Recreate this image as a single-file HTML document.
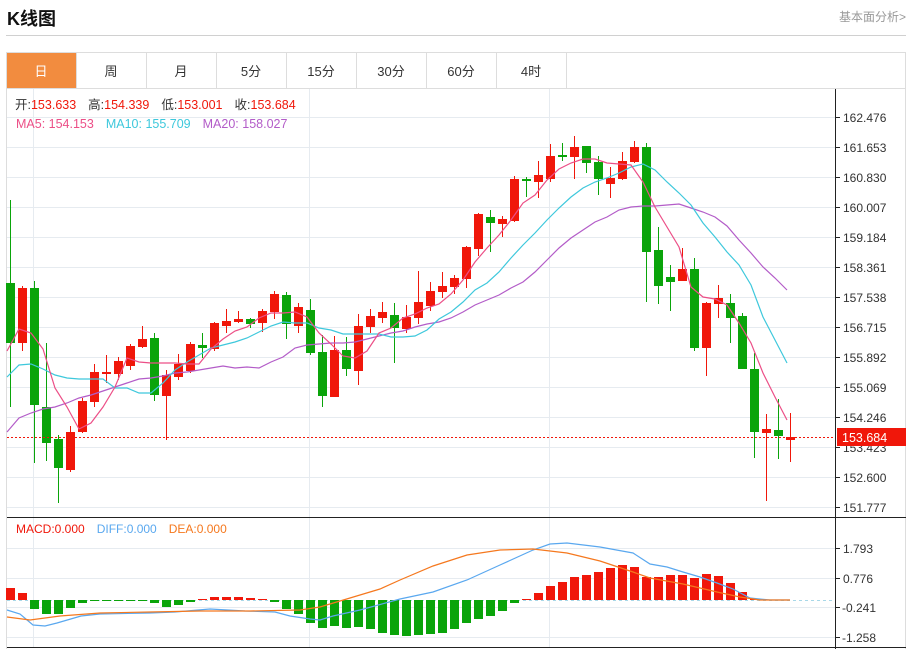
<!DOCTYPE html>
<html><head><meta charset="utf-8"><style>
body{margin:0;width:912px;height:649px;background:#fff;overflow:hidden;font-family:"Liberation Sans","Noto Sans CJK SC",sans-serif;position:relative}
.t{position:absolute;white-space:nowrap}
</style></head><body>
<div class="t" style="left:7px;top:5px;font-size:18px;font-weight:bold;color:#111">K线图</div>
<div class="t" style="right:6px;top:8px;font-size:12px;color:#999">基本面分析&gt;</div>
<div style="position:absolute;left:6px;top:35px;width:900px;height:1px;background:#d0d0d0"></div>
<svg id="s" width="912" height="649" style="position:absolute;left:0;top:0" font-family="Liberation Sans, Noto Sans CJK SC, sans-serif"></svg>
<script>
var S='';
function A(x){S+=x}
// frame
A('<rect x="6.5" y="52.5" width="899" height="600" fill="none" stroke="#ddd"/>');
A('<rect x="7" y="53" width="69" height="35" fill="#f28c3f"/>');
var tabs=['日','周','月','5分','15分','30分','60分','4时'];
for(var i=0;i<8;i++){var x=6+i*70;A('<line x1="'+(x+70.5)+'" y1="53" x2="'+(x+70.5)+'" y2="88" stroke="#ddd"/>');
A('<text x="'+(x+35)+'" y="76" font-size="13" text-anchor="middle" fill="'+(i==0?'#fff':'#333')+'">'+tabs[i]+'</text>');}
A('<line x1="6" y1="88.5" x2="906" y2="88.5" stroke="#ddd"/>');
// grid
for(var k=0;k<14;k++){var y=117+30*k;A('<line x1="7" y1="'+(y+.5)+'" x2="835" y2="'+(y+.5)+'" stroke="#e6ebf0"/>');}
[548,578,607,637].forEach(function(y){A('<line x1="7" y1="'+(y+.5)+'" x2="835" y2="'+(y+.5)+'" stroke="#e6ebf0"/>')});
[33,309,549].forEach(function(x){A('<line x1="'+(x+.5)+'" y1="89" x2="'+(x+.5)+'" y2="647" stroke="#e6ebf0"/>')});
// axis
A('<line x1="835.5" y1="89" x2="835.5" y2="649" stroke="#222"/>');
A('<line x1="7" y1="517.5" x2="906" y2="517.5" stroke="#222"/>');
A('<line x1="7" y1="647.5" x2="906" y2="647.5" stroke="#222"/>');
var labs=['162.476','161.653','160.830','160.007','159.184','158.361','157.538','156.715','155.892','155.069','154.246','153.423','152.600','151.777'];
labs.forEach(function(l,k){var y=117+30*k;A('<line x1="835" y1="'+(y+.5)+'" x2="840" y2="'+(y+.5)+'" stroke="#222"/><text x="843" y="'+(y+5)+'" font-size="12" fill="#333">'+l+'</text>')});
[['1.793',548],['0.776',578],['-0.241',607],['-1.258',637]].forEach(function(a){A('<line x1="835" y1="'+(a[1]+.5)+'" x2="840" y2="'+(a[1]+.5)+'" stroke="#222"/><text x="'+(a[0][0]=='-'?842:843)+'" y="'+(a[1]+5)+'" font-size="12" fill="#333">'+a[0].replace('-','-')+'</text>')});
// candles: [c, top, bottom, high, low]
var C=[['g',283,343,200,407],['r',288,343,286,351],['g',288,405,281,463],['g',407,443,343,461],['g',439,468,435,503],['r',432,470,426,472],['r',401,432,398,433],['r',372,402,364,407],['r',372,374,355,383],['r',361,374,357,380],['r',346,366,344,370],['r',339,347,326,348],['g',338,395,333,401],['r',375,396,370,440],['r',364,377,354,380],['r',344,371,342,373],['g',345,348,333,358],['r',323,349,322,351],['r',321,326,309,333],['r',319,322,311,323],['g',319,324,318,328],['r',311,323,309,332],['r',294,312,291,319],['g',295,324,292,339],['r',307,326,303,333],['g',310,353,299,355],['g',352,396,335,407],['r',350,397,336,397],['g',350,369,337,376],['r',326,371,314,385],['r',316,327,309,333],['r',312,318,302,323],['g',315,328,303,363],['r',317,329,305,333],['r',302,318,271,324],['r',291,306,282,311],['r',286,292,272,298],['r',278,287,275,294],['r',247,279,246,288],['r',214,249,213,256],['g',217,223,210,252],['r',219,224,216,237],['r',179,221,176,222],['g',179,181,177,197],['r',175,182,161,198],['r',156,179,144,182],['g',155,157,143,161],['r',147,157,136,179],['g',146,163,146,173],['g',162,179,156,195],['r',178,184,167,198],['r',161,179,152,180],['r',147,162,141,163],['g',147,252,143,302],['g',250,286,227,304],['g',277,282,265,311],['r',269,281,248,281],['g',269,348,258,351],['r',303,348,302,376],['r',298,304,285,318],['g',303,318,294,343],['g',316,369,313,369],['g',369,432,353,458],['r',429,433,414,501],['g',430,436,399,459],['r',437,440,413,462]];
var R='#f0170a',G='#0aa40a';
C.forEach(function(c,i){var x=10+12*i,col=c[0]=='r'?R:G;
A('<line x1="'+(x+.5)+'" y1="'+c[3]+'" x2="'+(x+.5)+'" y2="'+c[4]+'" stroke="'+col+'"/>');
A('<rect x="'+(x-4)+'" y="'+c[1]+'" width="9" height="'+Math.max(2,c[2]-c[1])+'" fill="'+col+'"/>');});
function P(pts,col,x0){var d='';pts.forEach(function(y,i){d+=(i?'L':'M')+(x0+12*i)+' '+y});A('<path d="'+d+'" fill="none" stroke="'+col+'" stroke-width="1.2"/>')}
var ma5=[351,329,333,349,388,407,429,423,407,387,358,362,363,363,363,364,364,349,339,331,327,318,313,313,312,317,333,344,356,358,351,333,328,318,314,308,304,294,280,262,248,235,220,203,195,180,169,163,159,159,163,164,165,182,207,227,247,287,297,299,305,323,343,373,397,420];
var ma10=[377,365,364,369,375,378,379,379,379,388,388,393,393,383,370,362,355,348,345,342,338,332,326,322,323,323,328,330,334,334,334,334,337,337,336,330,319,312,302,290,283,272,258,245,233,220,208,197,188,182,178,173,167,164,170,182,193,205,223,237,252,265,285,317,340,363];
var ma20=[432,418,413,409,407,403,398,395,391,387,383,379,378,376,373,372,370,368,366,368,367,368,362,357,348,345,344,343,343,342,339,336,333,331,327,324,322,318,312,305,300,295,288,282,272,260,248,238,230,222,217,210,207,206,206,205,204,208,212,217,226,240,253,267,278,290];
P(ma20,'#b35cc8',7);P(ma10,'#3ec8dc',7);P(ma5,'#ec4f87',7);
// price line
A('<line x1="7" y1="437.5" x2="835" y2="437.5" stroke="#f0170a" stroke-dasharray="2,2"/>');
A('<rect x="837" y="428" width="69" height="18" fill="#f0170a"/><text x="842" y="442" font-size="12.5" fill="#fff">153.684</text>');
// MACD
A('<line x1="7" y1="600.5" x2="835" y2="600.5" stroke="#a8d8e8" stroke-dasharray="3,3"/>');
var M=[588,593,609,614,614,608,603,601,601,601,601,601,603,607,605,602,599,597,597,597,598,599,602,609,614,623,628,626,628,627,629,633,635,636,635,634,633,629,623,619,616,611,603,599,593,586,582,577,575,572,568,565,567,577,577,575,575,578,574,576,583,592,599,600,600,600];
M.forEach(function(y,i){var x=10+12*i;var z=600;if(Math.abs(y-z)<1)return;var col=y<z?R:G;A('<rect x="'+(x-4)+'" y="'+Math.min(y,z)+'" width="9" height="'+Math.abs(y-z)+'" fill="'+col+'"/>')});
function L(p,col){var d='';for(var i=0;i<p.length;i+=2)d+=(i?'L':'M')+p[i]+' '+p[i+1];A('<path d="'+d+'" fill="none" stroke="'+col+'" stroke-width="1.2"/>')}
L([7,610,20,614,33,625,45,626,57,623,81,616,100,614,150,613,175,612,210,609,245,611,275,612,290,616,310,619,320,620,333,616,360,610,400,599,433,592,467,580,500,565,533,550,550,544,567,543,600,547,633,553,650,564,667,567,683,572,700,577,717,583,733,589,750,598,770,600,790,600],'#5aa8ef');
L([7,617,30,620,60,616,100,613,150,612,200,611,250,611,300,610,320,607,350,598,380,589,400,580,433,566,467,555,500,550,533,549,567,553,600,561,633,572,650,578,683,584,717,592,740,597,760,600,790,600],'#f5781e');
// info text
A('<text font-size="12.5" y="109"><tspan x="15" fill="#333">开:</tspan><tspan fill="#f0170a">153.633</tspan><tspan dx="12" fill="#333">高:</tspan><tspan fill="#f0170a">154.339</tspan><tspan dx="12" fill="#333">低:</tspan><tspan fill="#f0170a">153.001</tspan><tspan dx="12" fill="#333">收:</tspan><tspan fill="#f0170a">153.684</tspan></text>');
A('<text font-size="12.5" y="128"><tspan x="16" fill="#ec4f87">MA5: 154.153</tspan><tspan dx="12" fill="#3ec8dc">MA10: 155.709</tspan><tspan dx="12" fill="#b35cc8">MA20: 158.027</tspan></text>');
A('<text font-size="12" y="533"><tspan x="16" fill="#f0170a">MACD:0.000</tspan><tspan dx="12" fill="#5aa8ef">DIFF:0.000</tspan><tspan dx="12" fill="#f5781e">DEA:0.000</tspan></text>');
document.getElementById('s').innerHTML=S;
</script>
</body></html>
